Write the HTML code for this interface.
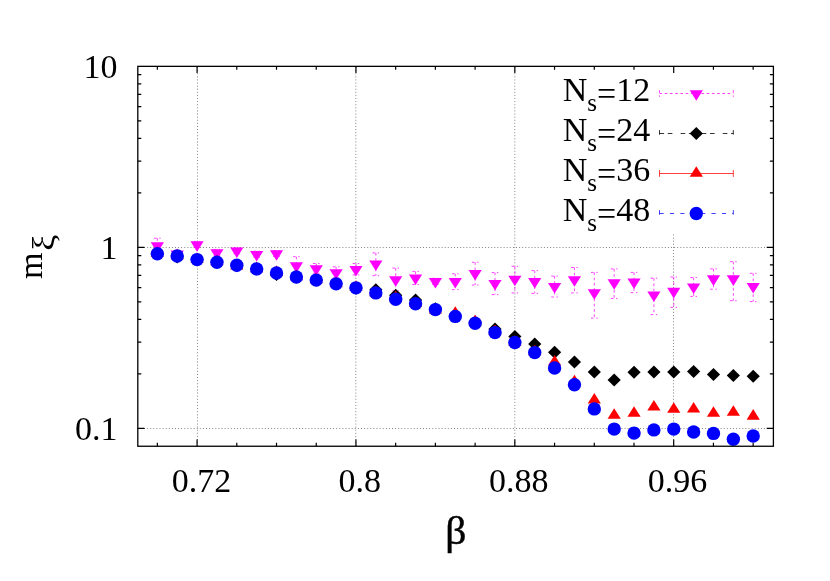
<!DOCTYPE html><html><head><meta charset="utf-8"><title>plot</title><style>html,body{margin:0;padding:0;background:#fff}svg{display:block;will-change:transform}text{font-family:"Liberation Serif",serif;fill:#000}</style></head><body>
<svg width="830" height="581" viewBox="0 0 830 581">
<rect width="830" height="581" fill="#fff"/>
<g stroke="#848484" stroke-width="1" stroke-dasharray="1 2.1" fill="none">
<path d="M197.5 446.25V66.35"/>
<path d="M355.8 446.25V66.35"/>
<path d="M514.8 446.25V66.35"/>
<path d="M673.5 446.25V234.0"/>
<path d="M137.8 247.5H773.4"/>
<path d="M137.8 428.5H773.4"/>
</g>
<g stroke="#000" stroke-width="1.2" fill="none">
<path d="M157.35 446.25v-3.5M157.35 66.35v3.5"/>
<path d="M197.07 446.25v-6.7M197.07 66.35v6.7"/>
<path d="M236.79 446.25v-3.5M236.79 66.35v3.5"/>
<path d="M276.51 446.25v-3.5M276.51 66.35v3.5"/>
<path d="M316.23 446.25v-3.5M316.23 66.35v3.5"/>
<path d="M355.95 446.25v-6.7M355.95 66.35v6.7"/>
<path d="M395.67 446.25v-3.5M395.67 66.35v3.5"/>
<path d="M435.39 446.25v-3.5M435.39 66.35v3.5"/>
<path d="M475.11 446.25v-3.5M475.11 66.35v3.5"/>
<path d="M514.83 446.25v-6.7M514.83 66.35v6.7"/>
<path d="M554.55 446.25v-3.5M554.55 66.35v3.5"/>
<path d="M594.27 446.25v-3.5M594.27 66.35v3.5"/>
<path d="M633.99 446.25v-3.5M633.99 66.35v3.5"/>
<path d="M673.71 446.25v-6.7M673.71 66.35v6.7"/>
<path d="M713.43 446.25v-3.5M713.43 66.35v3.5"/>
<path d="M753.15 446.25v-3.5M753.15 66.35v3.5"/>
<path d="M137.8 428.44h6.7M773.4 428.44h-6.7"/>
<path d="M137.8 373.95h3.5M773.4 373.95h-3.5"/>
<path d="M137.8 342.07h3.5M773.4 342.07h-3.5"/>
<path d="M137.8 319.46h3.5M773.4 319.46h-3.5"/>
<path d="M137.8 301.91h3.5M773.4 301.91h-3.5"/>
<path d="M137.8 287.58h3.5M773.4 287.58h-3.5"/>
<path d="M137.8 275.46h3.5M773.4 275.46h-3.5"/>
<path d="M137.8 264.96h3.5M773.4 264.96h-3.5"/>
<path d="M137.8 255.70h3.5M773.4 255.70h-3.5"/>
<path d="M137.8 247.42h6.7M773.4 247.42h-6.7"/>
<path d="M137.8 192.93h3.5M773.4 192.93h-3.5"/>
<path d="M137.8 161.05h3.5M773.4 161.05h-3.5"/>
<path d="M137.8 138.44h3.5M773.4 138.44h-3.5"/>
<path d="M137.8 120.89h3.5M773.4 120.89h-3.5"/>
<path d="M137.8 106.56h3.5M773.4 106.56h-3.5"/>
<path d="M137.8 94.44h3.5M773.4 94.44h-3.5"/>
<path d="M137.8 83.94h3.5M773.4 83.94h-3.5"/>
<path d="M137.8 74.68h3.5M773.4 74.68h-3.5"/>
</g>
<g stroke="#ff00ff" stroke-width="0.75" fill="none" stroke-dasharray="2.6 2.64">
<path d="M157.35 238.20V253.00"/>
<path d="M154.05 238.20h6.6M154.05 253.00h6.6"/>
<path d="M177.21 250.70V256.70"/>
<path d="M173.91 250.70h6.6M173.91 256.70h6.6"/>
<path d="M197.07 241.40V247.40"/>
<path d="M193.77 241.40h6.6M193.77 247.40h6.6"/>
<path d="M216.94 249.40V255.40"/>
<path d="M213.64 249.40h6.6M213.64 255.40h6.6"/>
<path d="M236.80 247.70V253.70"/>
<path d="M233.50 247.70h6.6M233.50 253.70h6.6"/>
<path d="M256.66 251.20V257.20"/>
<path d="M253.36 251.20h6.6M253.36 257.20h6.6"/>
<path d="M276.52 250.50V256.50"/>
<path d="M273.22 250.50h6.6M273.22 256.50h6.6"/>
<path d="M296.38 256.70V274.50"/>
<path d="M293.08 256.70h6.6M293.08 274.50h6.6"/>
<path d="M316.25 263.50V273.30"/>
<path d="M312.95 263.50h6.6M312.95 273.30h6.6"/>
<path d="M336.11 266.80V278.00"/>
<path d="M332.81 266.80h6.6M332.81 278.00h6.6"/>
<path d="M355.97 263.50V274.90"/>
<path d="M352.67 263.50h6.6M352.67 274.90h6.6"/>
<path d="M375.83 252.90V275.70"/>
<path d="M372.53 252.90h6.6M372.53 275.70h6.6"/>
<path d="M395.69 268.10V291.00"/>
<path d="M392.39 268.10h6.6M392.39 291.00h6.6"/>
<path d="M415.56 271.40V284.50"/>
<path d="M412.26 271.40h6.6M412.26 284.50h6.6"/>
<path d="M435.42 278.30V284.30"/>
<path d="M432.12 278.30h6.6M432.12 284.30h6.6"/>
<path d="M455.28 273.80V289.60"/>
<path d="M451.98 273.80h6.6M451.98 289.60h6.6"/>
<path d="M475.14 262.30V285.00"/>
<path d="M471.84 262.30h6.6M471.84 285.00h6.6"/>
<path d="M495.00 272.60V294.60"/>
<path d="M491.70 272.60h6.6M491.70 294.60h6.6"/>
<path d="M514.87 266.30V292.90"/>
<path d="M511.57 266.30h6.6M511.57 292.90h6.6"/>
<path d="M534.73 270.60V293.40"/>
<path d="M531.43 270.60h6.6M531.43 293.40h6.6"/>
<path d="M554.59 276.10V297.00"/>
<path d="M551.29 276.10h6.6M551.29 297.00h6.6"/>
<path d="M574.45 267.50V292.90"/>
<path d="M571.15 267.50h6.6M571.15 292.90h6.6"/>
<path d="M594.31 272.40V318.10"/>
<path d="M591.01 272.40h6.6M591.01 318.10h6.6"/>
<path d="M614.18 268.90V298.40"/>
<path d="M610.88 268.90h6.6M610.88 298.40h6.6"/>
<path d="M634.04 272.40V292.60"/>
<path d="M630.74 272.40h6.6M630.74 292.60h6.6"/>
<path d="M653.90 278.20V314.60"/>
<path d="M650.60 278.20h6.6M650.60 314.60h6.6"/>
<path d="M673.76 277.00V307.40"/>
<path d="M670.46 277.00h6.6M670.46 307.40h6.6"/>
<path d="M693.62 277.60V296.40"/>
<path d="M690.32 277.60h6.6M690.32 296.40h6.6"/>
<path d="M713.49 268.90V289.20"/>
<path d="M710.19 268.90h6.6M710.19 289.20h6.6"/>
<path d="M733.35 261.70V300.70"/>
<path d="M730.05 261.70h6.6M730.05 300.70h6.6"/>
<path d="M753.21 273.30V301.60"/>
<path d="M749.91 273.30h6.6M749.91 301.60h6.6"/>
</g>
<path d="M157.35 252.88L150.75 242.35H163.95Z" fill="#ff00ff"/>
<path d="M177.21 260.98L170.61 250.45H183.81Z" fill="#ff00ff"/>
<path d="M197.07 251.68L190.47 241.15H203.67Z" fill="#ff00ff"/>
<path d="M216.94 259.68L210.34 249.15H223.54Z" fill="#ff00ff"/>
<path d="M236.80 257.98L230.20 247.45H243.40Z" fill="#ff00ff"/>
<path d="M256.66 261.48L250.06 250.95H263.26Z" fill="#ff00ff"/>
<path d="M276.52 260.78L269.92 250.25H283.12Z" fill="#ff00ff"/>
<path d="M296.38 272.88L289.78 262.35H302.98Z" fill="#ff00ff"/>
<path d="M316.25 275.68L309.65 265.15H322.85Z" fill="#ff00ff"/>
<path d="M336.11 279.68L329.51 269.15H342.71Z" fill="#ff00ff"/>
<path d="M355.97 276.48L349.37 265.95H362.57Z" fill="#ff00ff"/>
<path d="M375.83 271.08L369.23 260.55H382.43Z" fill="#ff00ff"/>
<path d="M395.69 286.78L389.09 276.25H402.29Z" fill="#ff00ff"/>
<path d="M415.56 285.08L408.96 274.55H422.16Z" fill="#ff00ff"/>
<path d="M435.42 288.58L428.82 278.05H442.02Z" fill="#ff00ff"/>
<path d="M455.28 288.58L448.68 278.05H461.88Z" fill="#ff00ff"/>
<path d="M475.14 280.48L468.54 269.95H481.74Z" fill="#ff00ff"/>
<path d="M495.00 290.58L488.40 280.05H501.60Z" fill="#ff00ff"/>
<path d="M514.87 286.28L508.27 275.75H521.47Z" fill="#ff00ff"/>
<path d="M534.73 288.58L528.13 278.05H541.33Z" fill="#ff00ff"/>
<path d="M554.59 293.48L547.99 282.95H561.19Z" fill="#ff00ff"/>
<path d="M574.45 286.78L567.85 276.25H581.05Z" fill="#ff00ff"/>
<path d="M594.31 299.78L587.71 289.25H600.91Z" fill="#ff00ff"/>
<path d="M614.18 289.68L607.58 279.15H620.78Z" fill="#ff00ff"/>
<path d="M634.04 289.08L627.44 278.55H640.64Z" fill="#ff00ff"/>
<path d="M653.90 302.08L647.30 291.55H660.50Z" fill="#ff00ff"/>
<path d="M673.76 298.38L667.16 287.85H680.36Z" fill="#ff00ff"/>
<path d="M693.62 293.98L687.02 283.45H700.22Z" fill="#ff00ff"/>
<path d="M713.49 285.88L706.89 275.35H720.09Z" fill="#ff00ff"/>
<path d="M733.35 285.88L726.75 275.35H739.95Z" fill="#ff00ff"/>
<path d="M753.21 293.48L746.61 282.95H759.81Z" fill="#ff00ff"/>
<path d="M157.35 247.20L163.95 253.70L157.35 260.20L150.75 253.70Z" fill="#000"/>
<path d="M177.21 250.50L183.81 257.00L177.21 263.50L170.61 257.00Z" fill="#000"/>
<path d="M197.07 253.10L203.67 259.60L197.07 266.10L190.47 259.60Z" fill="#000"/>
<path d="M216.94 255.60L223.54 262.10L216.94 268.60L210.34 262.10Z" fill="#000"/>
<path d="M236.80 259.20L243.40 265.70L236.80 272.20L230.20 265.70Z" fill="#000"/>
<path d="M256.66 262.40L263.26 268.90L256.66 275.40L250.06 268.90Z" fill="#000"/>
<path d="M276.52 267.90L283.12 274.40L276.52 280.90L269.92 274.40Z" fill="#000"/>
<path d="M296.38 270.40L302.98 276.90L296.38 283.40L289.78 276.90Z" fill="#000"/>
<path d="M316.25 273.60L322.85 280.10L316.25 286.60L309.65 280.10Z" fill="#000"/>
<path d="M336.11 277.30L342.71 283.80L336.11 290.30L329.51 283.80Z" fill="#000"/>
<path d="M355.97 281.70L362.57 288.20L355.97 294.70L349.37 288.20Z" fill="#000"/>
<path d="M375.83 283.30L382.43 289.80L375.83 296.30L369.23 289.80Z" fill="#000"/>
<path d="M395.69 288.80L402.29 295.30L395.69 301.80L389.09 295.30Z" fill="#000"/>
<path d="M415.56 293.40L422.16 299.90L415.56 306.40L408.96 299.90Z" fill="#000"/>
<path d="M435.42 302.20L442.02 308.70L435.42 315.20L428.82 308.70Z" fill="#000"/>
<path d="M455.28 309.50L461.88 316.00L455.28 322.50L448.68 316.00Z" fill="#000"/>
<path d="M475.14 316.00L481.74 322.50L475.14 329.00L468.54 322.50Z" fill="#000"/>
<path d="M495.00 322.50L501.60 329.00L495.00 335.50L488.40 329.00Z" fill="#000"/>
<path d="M514.87 330.10L521.47 336.60L514.87 343.10L508.27 336.60Z" fill="#000"/>
<path d="M534.73 337.40L541.33 343.90L534.73 350.40L528.13 343.90Z" fill="#000"/>
<path d="M554.59 345.70L561.19 352.20L554.59 358.70L547.99 352.20Z" fill="#000"/>
<path d="M574.45 355.50L581.05 362.00L574.45 368.50L567.85 362.00Z" fill="#000"/>
<path d="M594.31 365.50L600.91 372.00L594.31 378.50L587.71 372.00Z" fill="#000"/>
<path d="M614.18 373.60L620.78 380.10L614.18 386.60L607.58 380.10Z" fill="#000"/>
<path d="M634.04 365.70L640.64 372.20L634.04 378.70L627.44 372.20Z" fill="#000"/>
<path d="M653.90 365.40L660.50 371.90L653.90 378.40L647.30 371.90Z" fill="#000"/>
<path d="M673.76 365.40L680.36 371.90L673.76 378.40L667.16 371.90Z" fill="#000"/>
<path d="M693.62 365.10L700.22 371.60L693.62 378.10L687.02 371.60Z" fill="#000"/>
<path d="M713.49 368.00L720.09 374.50L713.49 381.00L706.89 374.50Z" fill="#000"/>
<path d="M733.35 369.10L739.95 375.60L733.35 382.10L726.75 375.60Z" fill="#000"/>
<path d="M753.21 369.70L759.81 376.20L753.21 382.70L746.61 376.20Z" fill="#000"/>
<path d="M157.35 246.32L150.75 256.85H163.95Z" fill="#ff0000"/>
<path d="M177.21 248.62L170.61 259.15H183.81Z" fill="#ff0000"/>
<path d="M197.07 252.32L190.47 262.85H203.67Z" fill="#ff0000"/>
<path d="M216.94 254.82L210.34 265.35H223.54Z" fill="#ff0000"/>
<path d="M236.80 258.92L230.20 269.45H243.40Z" fill="#ff0000"/>
<path d="M256.66 261.62L250.06 272.15H263.26Z" fill="#ff0000"/>
<path d="M276.52 265.32L269.92 275.85H283.12Z" fill="#ff0000"/>
<path d="M296.38 269.62L289.78 280.15H302.98Z" fill="#ff0000"/>
<path d="M316.25 272.82L309.65 283.35H322.85Z" fill="#ff0000"/>
<path d="M336.11 276.72L329.51 287.25H342.71Z" fill="#ff0000"/>
<path d="M355.97 280.32L349.37 290.85H362.57Z" fill="#ff0000"/>
<path d="M375.83 285.62L369.23 296.15H382.43Z" fill="#ff0000"/>
<path d="M395.69 290.72L389.09 301.25H402.29Z" fill="#ff0000"/>
<path d="M415.56 296.52L408.96 307.05H422.16Z" fill="#ff0000"/>
<path d="M435.42 303.02L428.82 313.55H442.02Z" fill="#ff0000"/>
<path d="M455.28 306.22L448.68 316.75H461.88Z" fill="#ff0000"/>
<path d="M475.14 314.62L468.54 325.15H481.74Z" fill="#ff0000"/>
<path d="M495.00 324.42L488.40 334.95H501.60Z" fill="#ff0000"/>
<path d="M514.87 335.32L508.27 345.85H521.47Z" fill="#ff0000"/>
<path d="M534.73 344.72L528.13 355.25H541.33Z" fill="#ff0000"/>
<path d="M554.59 355.02L547.99 365.55H561.19Z" fill="#ff0000"/>
<path d="M574.45 374.72L567.85 385.25H581.05Z" fill="#ff0000"/>
<path d="M594.31 392.92L587.71 403.45H600.91Z" fill="#ff0000"/>
<path d="M614.18 408.22L607.58 418.75H620.78Z" fill="#ff0000"/>
<path d="M634.04 406.22L627.44 416.75H640.64Z" fill="#ff0000"/>
<path d="M653.90 400.02L647.30 410.55H660.50Z" fill="#ff0000"/>
<path d="M673.76 402.32L667.16 412.85H680.36Z" fill="#ff0000"/>
<path d="M693.62 402.02L687.02 412.55H700.22Z" fill="#ff0000"/>
<path d="M713.49 406.22L706.89 416.75H720.09Z" fill="#ff0000"/>
<path d="M733.35 405.22L726.75 415.75H739.95Z" fill="#ff0000"/>
<path d="M753.21 409.12L746.61 419.65H759.81Z" fill="#ff0000"/>
<circle cx="157.35" cy="253.70" r="6.7" fill="#0000ff"/>
<circle cx="177.21" cy="256.00" r="6.7" fill="#0000ff"/>
<circle cx="197.07" cy="259.60" r="6.7" fill="#0000ff"/>
<circle cx="216.94" cy="262.20" r="6.7" fill="#0000ff"/>
<circle cx="236.80" cy="265.20" r="6.7" fill="#0000ff"/>
<circle cx="256.66" cy="268.90" r="6.7" fill="#0000ff"/>
<circle cx="276.52" cy="273.00" r="6.7" fill="#0000ff"/>
<circle cx="296.38" cy="276.95" r="6.7" fill="#0000ff"/>
<circle cx="316.25" cy="280.10" r="6.7" fill="#0000ff"/>
<circle cx="336.11" cy="283.85" r="6.7" fill="#0000ff"/>
<circle cx="355.97" cy="287.85" r="6.7" fill="#0000ff"/>
<circle cx="375.83" cy="292.90" r="6.7" fill="#0000ff"/>
<circle cx="395.69" cy="299.20" r="6.7" fill="#0000ff"/>
<circle cx="415.56" cy="303.80" r="6.7" fill="#0000ff"/>
<circle cx="435.42" cy="309.60" r="6.7" fill="#0000ff"/>
<circle cx="455.28" cy="316.40" r="6.7" fill="#0000ff"/>
<circle cx="475.14" cy="323.20" r="6.7" fill="#0000ff"/>
<circle cx="495.00" cy="332.60" r="6.7" fill="#0000ff"/>
<circle cx="514.87" cy="342.50" r="6.7" fill="#0000ff"/>
<circle cx="534.73" cy="352.60" r="6.7" fill="#0000ff"/>
<circle cx="554.59" cy="368.00" r="6.7" fill="#0000ff"/>
<circle cx="574.45" cy="384.80" r="6.7" fill="#0000ff"/>
<circle cx="594.31" cy="408.90" r="6.7" fill="#0000ff"/>
<circle cx="614.18" cy="429.10" r="6.7" fill="#0000ff"/>
<circle cx="634.04" cy="433.10" r="6.7" fill="#0000ff"/>
<circle cx="653.90" cy="429.90" r="6.7" fill="#0000ff"/>
<circle cx="673.76" cy="429.10" r="6.7" fill="#0000ff"/>
<circle cx="693.62" cy="432.00" r="6.7" fill="#0000ff"/>
<circle cx="713.49" cy="433.40" r="6.7" fill="#0000ff"/>
<circle cx="733.35" cy="439.30" r="6.7" fill="#0000ff"/>
<circle cx="753.21" cy="436.00" r="6.7" fill="#0000ff"/>
<path d="M659.5 93.5H733.3" stroke="#ff00ff" stroke-width="0.75" stroke-dasharray="2.6 2.64" fill="none"/>
<path d="M659.5 90.2v6.6M733.3 90.2v6.6" stroke="#ff00ff" stroke-width="0.75" stroke-dasharray="2.6 2.64" fill="none"/>
<path d="M659.5 133.5H733.3" stroke="#000" stroke-width="0.8" stroke-dasharray="4.6 3.7 4.6 8.2" fill="none"/>
<path d="M659.5 130.1v6.8M733.3 130.1v6.8" stroke="#000" stroke-width="0.8" stroke-dasharray="4.6 3.7 4.6 8.2" fill="none"/>
<path d="M659.5 173.5H733.3M659.5 170.1v6.8M733.3 170.1v6.8" stroke="#ff0000" stroke-width="0.75" fill="none"/>
<path d="M659.5 213.5H733.3" stroke="#0000ff" stroke-width="0.75" stroke-dasharray="4.2 6.2" fill="none"/>
<path d="M659.5 210.1v6.8M733.3 210.1v6.8" stroke="#0000ff" stroke-width="0.75" stroke-dasharray="4.6 6.2" fill="none"/>
<path d="M696.30 100.78L689.70 90.25H702.90Z" fill="#ff00ff"/>
<path d="M696.30 127.00L702.90 133.50L696.30 140.00L689.70 133.50Z" fill="#000"/>
<path d="M696.30 166.22L689.70 176.75H702.90Z" fill="#ff0000"/>
<circle cx="696.30" cy="213.50" r="6.7" fill="#0000ff"/>
<text x="562.7" y="101.4" font-size="34">N<tspan font-size="25" dy="9.9">s</tspan><tspan x="597.1" dy="-6.8">=</tspan><tspan dy="-3.1">12</tspan></text>
<text x="562.7" y="141.4" font-size="34">N<tspan font-size="25" dy="9.9">s</tspan><tspan x="597.1" dy="-6.8">=</tspan><tspan dy="-3.1">24</tspan></text>
<text x="562.7" y="181.4" font-size="34">N<tspan font-size="25" dy="9.9">s</tspan><tspan x="597.1" dy="-6.8">=</tspan><tspan dy="-3.1">36</tspan></text>
<text x="562.7" y="221.4" font-size="34">N<tspan font-size="25" dy="9.9">s</tspan><tspan x="597.1" dy="-6.8">=</tspan><tspan dy="-3.1">48</tspan></text>
<rect x="137.8" y="66.35" width="635.60" height="379.90" fill="none" stroke="#000" stroke-width="1.3"/>
<text x="117.5" y="78.2" font-size="34" text-anchor="end">10</text>
<text x="117.5" y="259.2" font-size="34" text-anchor="end">1</text>
<text x="117.5" y="440.2" font-size="34" text-anchor="end">0.1</text>
<text x="201.5" y="491.8" font-size="34" text-anchor="middle">0.72</text>
<text x="359.8" y="491.8" font-size="34" text-anchor="middle">0.8</text>
<text x="518.8" y="491.8" font-size="34" text-anchor="middle">0.88</text>
<text x="677.5" y="491.8" font-size="34" text-anchor="middle">0.96</text>
<text transform="translate(455.8 543.5) scale(1.05 1)" font-size="39.6" text-anchor="middle" stroke="#000" stroke-width="0.45">β</text>
<text transform="translate(42.2 278.9) rotate(-90)" font-size="34">m</text>
<text transform="translate(53.9 250.7) rotate(-90) scale(1.13 1)" font-size="32">ξ</text>
</svg></body></html>
